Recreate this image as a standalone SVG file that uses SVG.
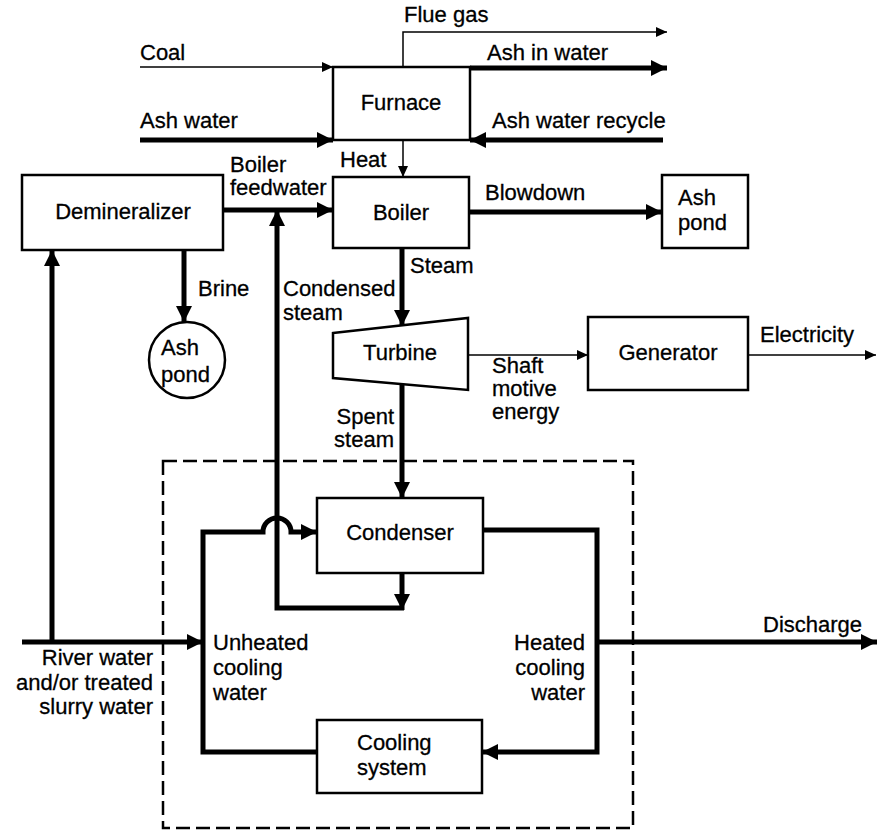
<svg xmlns="http://www.w3.org/2000/svg" width="877" height="831" viewBox="0 0 877 831">
<style>
.box{fill:#fff;stroke:#000;stroke-width:2.5}
.t{font-family:"Liberation Sans",Arial,sans-serif;font-size:22px;fill:#000;stroke:#000;stroke-width:0.3}
.m{text-anchor:middle}
.e{text-anchor:end}
.thick{fill:none;stroke:#000;stroke-width:5}
.thin{fill:none;stroke:#000;stroke-width:1.5}
.dash{fill:none;stroke:#000;stroke-width:2.5;stroke-dasharray:14,6}
</style>
<defs>
<marker id="ak" markerUnits="userSpaceOnUse" markerWidth="18" markerHeight="16" refX="16" refY="8" orient="auto"><path d="M0,0 L16,8 L0,16 z" fill="#000"/></marker>
<marker id="an" markerUnits="userSpaceOnUse" markerWidth="12" markerHeight="12" refX="11" refY="5" orient="auto"><path d="M0,0 L11,5 L0,10 z" fill="#000"/></marker>
</defs>
<rect id="cooling-boundary" class="dash" x="163" y="461" width="470" height="367"/>
<g id="connectors">
<path class="thin" d="M140,67 H333" marker-end="url(#an)"/>
<path class="thick" d="M140,140 H333" marker-end="url(#ak)"/>
<path class="thin" d="M403,67 V32 H667" marker-end="url(#an)"/>
<path class="thick" d="M470,68 H667" marker-end="url(#ak)"/>
<path class="thick" d="M663,140 H470" marker-end="url(#ak)"/>
<path class="thin" d="M403,140 V177" marker-end="url(#an)"/>
<path class="thick" d="M223,210 H333" marker-end="url(#ak)"/>
<path class="thick" d="M402,573 V610" marker-end="url(#ak)"/>
<path class="thick" d="M404,608 H277 V210" marker-end="url(#ak)"/>
<path class="thick" d="M184,250 V322" marker-end="url(#ak)"/>
<path class="thick" d="M469,212 H662" marker-end="url(#ak)"/>
<path class="thick" d="M402,248 V326" marker-end="url(#ak)"/>
<path class="thin" d="M468,355 H588" marker-end="url(#an)"/>
<path class="thin" d="M748,355 H876" marker-end="url(#an)"/>
<path class="thick" d="M402,384 V498" marker-end="url(#ak)"/>
<path class="thick" d="M22,642 H203" marker-end="url(#ak)"/>
<path class="thick" d="M52,642 V250" marker-end="url(#ak)"/>
<path class="thick" d="M317,752 H203 V532 H263 A14,14 0 0 1 291,532 H317" marker-end="url(#ak)"/>
<path class="thick" d="M483,530 H597 V752 H482" marker-end="url(#ak)"/>
<path class="thick" d="M597,642 H877" marker-end="url(#ak)"/>
</g>
<g id="furnace"><rect class="box" x="333" y="67" width="137" height="73"/><text class="t m" x="401" y="110">Furnace</text></g>
<g id="boiler"><rect class="box" x="333" y="177" width="136" height="71"/><text class="t m" x="401" y="220">Boiler</text></g>
<g id="demineralizer"><rect class="box" x="22" y="175" width="201" height="75"/><text class="t m" x="123" y="219">Demineralizer</text></g>
<g id="ash-pond-brine"><circle class="box" cx="187" cy="360" r="38"/><text class="t" x="161" y="355">Ash</text><text class="t" x="161" y="382">pond</text></g>
<g id="ash-pond-blowdown"><rect class="box" x="662" y="175" width="86" height="73"/><text class="t" x="678" y="205">Ash</text><text class="t" x="678" y="230">pond</text></g>
<g id="turbine"><polygon class="box" points="333,333 468,318 468,390 333,378"/><text class="t m" x="400" y="360">Turbine</text></g>
<g id="generator"><rect class="box" x="588" y="317" width="160" height="73"/><text class="t m" x="668" y="360">Generator</text></g>
<g id="condenser"><rect class="box" x="317" y="498" width="166" height="75"/><text class="t m" x="400" y="540">Condenser</text></g>
<g id="cooling-system"><rect class="box" x="317" y="720" width="165" height="73"/><text class="t" x="357" y="750">Cooling</text><text class="t" x="357" y="775">system</text></g>
<g id="labels">
<text class="t" x="404" y="22">Flue gas</text>
<text class="t" x="140" y="60">Coal</text>
<text class="t" x="487" y="60">Ash in water</text>
<text class="t" x="140" y="128">Ash water</text>
<text class="t" x="492" y="128">Ash water recycle</text>
<text class="t" x="340" y="167">Heat</text>
<text class="t" x="230" y="172">Boiler</text>
<text class="t" x="230" y="195">feedwater</text>
<text class="t" x="485" y="200">Blowdown</text>
<text class="t" x="198" y="296">Brine</text>
<text class="t" x="283" y="296">Condensed</text>
<text class="t" x="283" y="320">steam</text>
<text class="t" x="410" y="273">Steam</text>
<text class="t" x="492" y="373">Shaft</text>
<text class="t" x="492" y="396">motive</text>
<text class="t" x="492" y="419">energy</text>
<text class="t" x="760" y="342">Electricity</text>
<text class="t e" x="394" y="424">Spent</text>
<text class="t e" x="394" y="447">steam</text>
<text class="t" x="763" y="632">Discharge</text>
<text class="t e" x="153" y="665">River water</text>
<text class="t e" x="153" y="690">and/or treated</text>
<text class="t e" x="153" y="714">slurry water</text>
<text class="t" x="213" y="650">Unheated</text>
<text class="t" x="213" y="675">cooling</text>
<text class="t" x="213" y="700">water</text>
<text class="t e" x="585" y="650">Heated</text>
<text class="t e" x="585" y="675">cooling</text>
<text class="t e" x="585" y="700">water</text>
</g>
</svg>
